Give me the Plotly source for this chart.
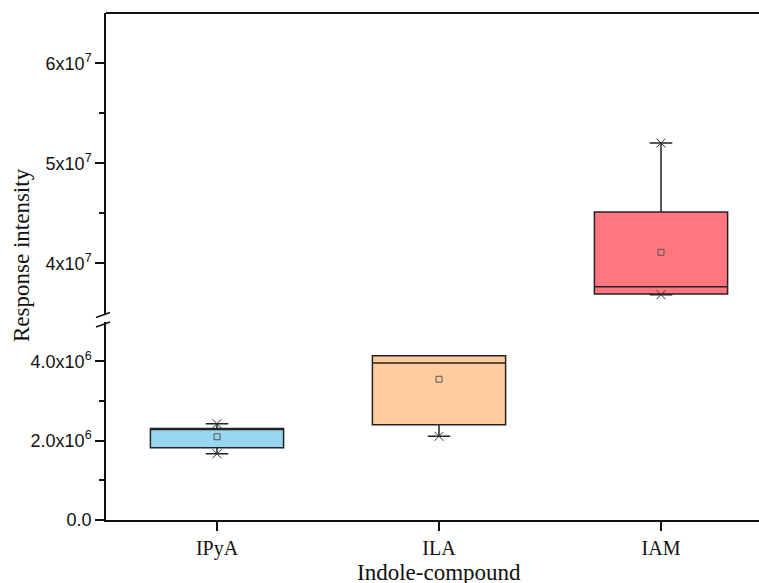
import plotly.graph_objects as go

# ---- data ----
categories = ["IPyA", "ILA", "IAM"]
positions = [1, 2, 3]
q1 = [1.82e6, 2.40e6, 3.693e7]
median = [2.29e6, 3.96e6, 3.766e7]
q3 = [2.31e6, 4.14e6, 4.513e7]
low = [1.67e6, 2.11e6, 3.686e7]
high = [2.43e6, 4.14e6, 5.203e7]
means = [2.10e6, 3.55e6, 4.11e7]
fills = ["#97D6EF", "#FFCC9F", "#FF7681"]
panel = ["y", "y", "y2"]

lower_ticks = [0, 2e6, 4e6]
lower_ticktext = ["0.0", "2.0x10<sup>6</sup>", "4.0x10<sup>6</sup>"]
upper_ticks = [4e7, 5e7, 6e7]
upper_ticktext = ["4x10<sup>7</sup>", "5x10<sup>7</sup>", "6x10<sup>7</sup>"]

W, H = 759, 583
L, R, T, B = 106, 0, 13, 63
pw, ph = W - L - R, H - T - B

def py(pix):
    return (H - B - pix) / ph

def px(pix):
    return (pix - L) / pw

fig = go.Figure()
for i in range(3):
    fig.add_trace(go.Box(
        x=[positions[i]], q1=[q1[i]], median=[median[i]], q3=[q3[i]],
        lowerfence=[low[i]], upperfence=[high[i]],
        width=0.6, whiskerwidth=0.17,
        fillcolor=fills[i], line=dict(color="#222222", width=1.5),
        yaxis=panel[i], showlegend=False, hoverinfo="skip"))
    pts = [low[i]] if high[i] == q3[i] else [low[i], high[i]]
    fig.add_trace(go.Scatter(
        x=[positions[i]] * len(pts), y=pts, mode="markers",
        marker=dict(symbol="x-thin-open", size=9, color="#333333",
                    line=dict(color="#333333", width=1)),
        yaxis=panel[i], showlegend=False, hoverinfo="skip"))
    fig.add_trace(go.Scatter(
        x=[positions[i]], y=[means[i]], mode="markers",
        marker=dict(symbol="square-open", size=6, color="#555555",
                    line=dict(color="#555555", width=1)),
        yaxis=panel[i], showlegend=False, hoverinfo="skip"))

axis_font = dict(family="Liberation Sans, Arial", size=18, color="#111111")
serif = "Liberation Serif, Times New Roman, serif"

fig.update_layout(
    width=W, height=H,
    margin=dict(l=L, r=R, t=T, b=B),
    plot_bgcolor="white", paper_bgcolor="white",
    xaxis=dict(
        domain=[0, 1], range=[0.5, 0.5 + pw / 222.0],
        tickvals=positions, ticktext=categories,
        ticks="outside", ticklen=9, tickwidth=1.5, tickcolor="#111111",
        showline=True, linecolor="#111111", linewidth=1.5,
        showgrid=False, zeroline=False,
        tickfont=dict(family=serif, size=20, color="#111111"),
        anchor="y"),
    yaxis=dict(
        domain=[0, py(322)], range=[0, 4.994e6],
        tickvals=lower_ticks, ticktext=lower_ticktext,
        ticks="outside", ticklen=9, tickwidth=1.5, tickcolor="#111111",
        minor=dict(tickvals=[1e6, 3e6], ticks="outside", ticklen=5,
                   tickwidth=1.5, tickcolor="#111111", showgrid=False),
        showline=True, linecolor="#111111", linewidth=1.5,
        showgrid=False, zeroline=False, tickfont=axis_font, anchor="x"),
    yaxis2=dict(
        domain=[py(315), 1], range=[3.483e7, 6.503e7],
        tickvals=upper_ticks, ticktext=upper_ticktext,
        ticks="outside", ticklen=9, tickwidth=1.5, tickcolor="#111111",
        minor=dict(tickvals=[4.5e7, 5.5e7], ticks="outside", ticklen=5,
                   tickwidth=1.5, tickcolor="#111111", showgrid=False),
        showline=True, linecolor="#111111", linewidth=1.5,
        showgrid=False, zeroline=False, tickfont=axis_font, anchor="x"),
)

fig.add_shape(type="line", xref="paper", yref="paper", x0=0, x1=1, y0=1, y1=1,
              line=dict(color="#111111", width=2))
for (xa, ya, xb, yb) in [(96, 317.5, 110, 312.5), (96, 327, 110, 322)]:
    fig.add_shape(type="line", xref="paper", yref="paper",
                  x0=px(xa), y0=py(ya), x1=px(xb), y1=py(yb),
                  line=dict(color="#111111", width=1.5))

fig.add_annotation(text="Response intensity", xref="paper", yref="paper",
                   x=px(21), y=py(255), textangle=-90, showarrow=False,
                   xanchor="center", yanchor="middle",
                   font=dict(family=serif, size=23, color="#111111"))
fig.add_annotation(text="Indole-compound", xref="paper", yref="paper",
                   x=px(439), y=py(572), showarrow=False,
                   xanchor="center", yanchor="middle",
                   font=dict(family=serif, size=23, color="#111111"))

fig.write_html("out.html", config={"displayModeBar": False},
               post_script="document.body.style.margin='0';document.body.style.overflow='hidden';")
